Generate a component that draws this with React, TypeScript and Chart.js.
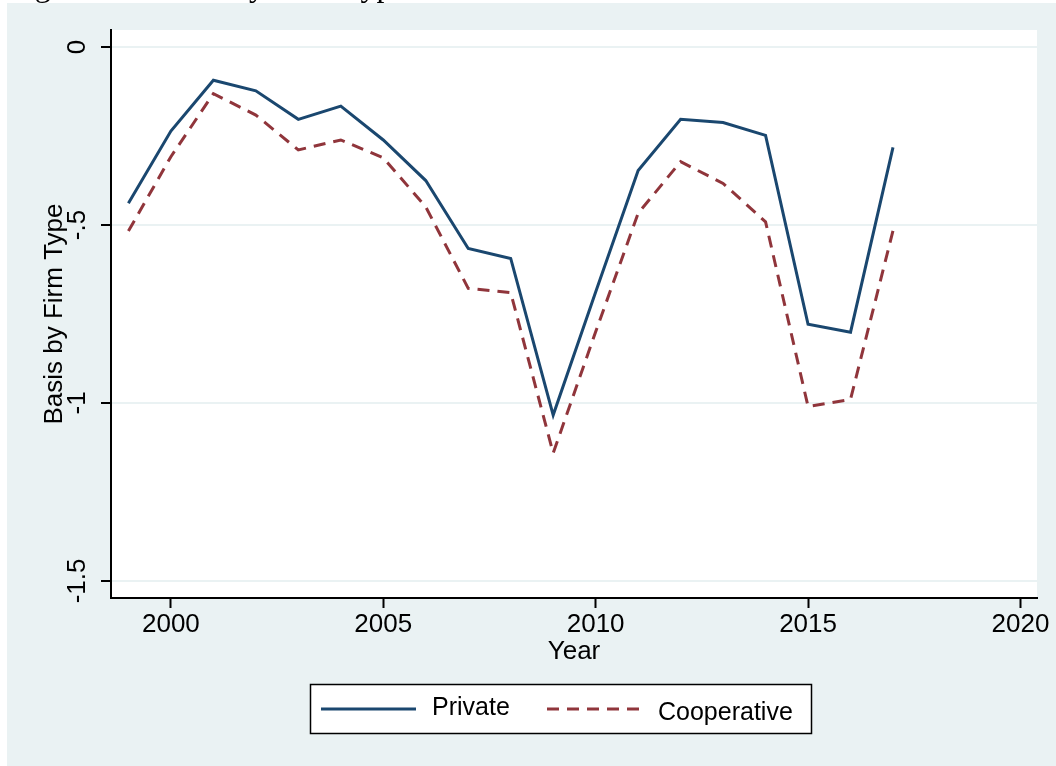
import React, { useEffect, useRef } from "react";
import { Chart, registerables } from "chart.js";

Chart.register(...registerables);

// Crop years and the average basis for each type of firm
const years = [1999, 2000, 2001, 2002, 2003, 2004, 2005, 2006, 2007, 2008, 2009, 2010, 2011, 2012, 2013, 2014, 2015, 2016, 2017];
const privateBasis = [-0.439, -0.236, -0.093, -0.123, -0.203, -0.166, -0.261, -0.375, -0.566, -0.594, -1.034, -0.688, -0.347, -0.203, -0.212, -0.248, -0.779, -0.801, -0.282];
const cooperativeBasis = [-0.517, -0.308, -0.131, -0.191, -0.289, -0.261, -0.311, -0.449, -0.678, -0.69, -1.141, -0.8, -0.467, -0.322, -0.383, -0.491, -1.01, -0.99, -0.516];

const seriesLabels = ["Private", "Cooperative"];
const xTicks = [2000, 2005, 2010, 2015, 2020];
const yTicks = [0, -0.5, -1, -1.5];
const yTickLabels = ["0", "-.5", "-1", "-1.5"];
const xTitle = "Year";
const yTitle = "Basis by Firm Type";
const figureCaption = "Figure A1: Basis by Firm Type";

const PANEL = "#EAF2F3";
const NAVY = "#1A476F";
const MAROON = "#90353B";
const SANS = '"Liberation Sans", Arial, Helvetica, sans-serif';

const chromePlugin = {
  id: "stataChrome",
  beforeDraw(chart: any) {
    const { ctx, chartArea, width, height } = chart;
    ctx.save();
    ctx.fillStyle = "#ffffff";
    ctx.fillRect(0, 0, width, height);
    ctx.fillStyle = PANEL;
    ctx.fillRect(7, 3, width - 7, height - 3);
    ctx.fillStyle = "#ffffff";
    ctx.fillRect(chartArea.left, chartArea.top, chartArea.right - chartArea.left, chartArea.bottom - chartArea.top);
    // caption line above the graph region
    ctx.fillStyle = "#000000";
    ctx.font = '32px "Liberation Serif", "Times New Roman", serif';
    ctx.textAlign = "left";
    ctx.textBaseline = "alphabetic";
    ctx.fillText(figureCaption, 8, -4);
    ctx.restore();
  },
  afterDraw(chart: any) {
    const { ctx } = chart;
    const yScale = chart.scales.y;
    ctx.save();
    // vertical y tick labels
    ctx.fillStyle = "#000000";
    ctx.font = `26px ${SANS}`;
    ctx.textAlign = "center";
    ctx.textBaseline = "alphabetic";
    yScale.ticks.forEach((t: any) => {
      const py = yScale.getPixelForValue(t.value);
      ctx.save();
      ctx.translate(85, py);
      ctx.rotate(-Math.PI / 2);
      ctx.fillText(String(t.label), 0, 0);
      ctx.restore();
    });

    // legend box
    const box = { x: 310, y: 684, w: 501, h: 49 };
    ctx.fillStyle = "#ffffff";
    ctx.fillRect(box.x, box.y, box.w, box.h);
    ctx.strokeStyle = "#000000";
    ctx.lineWidth = 1.5;
    ctx.strokeRect(box.x + 0.5, box.y + 0.5, box.w, box.h);

    const entries = [
      { x1: 321, x2: 416, ly: 709, tx: 432, ty: 715 },
      { x1: 547, x2: 643, ly: 709, tx: 658, ty: 720 },
    ];
    ctx.font = `25px ${SANS}`;
    ctx.textAlign = "left";
    chart.data.datasets.forEach((ds: any, i: number) => {
      const e = entries[i];
      ctx.strokeStyle = ds.borderColor;
      ctx.lineWidth = ds.borderWidth;
      ctx.setLineDash(ds.borderDash || []);
      ctx.beginPath();
      ctx.moveTo(e.x1, e.ly);
      ctx.lineTo(e.x2, e.ly);
      ctx.stroke();
      ctx.setLineDash([]);
      ctx.fillStyle = "#000000";
      ctx.fillText(ds.label, e.tx, e.ty);
    });
    ctx.restore();
  },
};

export default function App() {
  const canvasRef = useRef<HTMLCanvasElement | null>(null);

  useEffect(() => {
    const canvas = canvasRef.current;
    if (!canvas) return;
    const toPoints = (vals: number[]) => years.map((yr, i) => ({ x: yr, y: vals[i] }));

    const chart = new Chart(canvas, {
      type: "line",
      data: {
        datasets: [
          {
            label: seriesLabels[0],
            data: toPoints(privateBasis),
            borderColor: NAVY,
            borderWidth: 3,
            pointRadius: 0,
            tension: 0,
            fill: false,
          },
          {
            label: seriesLabels[1],
            data: toPoints(cooperativeBasis),
            borderColor: MAROON,
            borderWidth: 3,
            borderDash: [12, 8],
            pointRadius: 0,
            tension: 0,
            fill: false,
          },
        ],
      },
      options: {
        responsive: false,
        animation: false,
        devicePixelRatio: 1,
        layout: { padding: { left: 0, top: 30, right: 19, bottom: 0 } },
        plugins: {
          legend: { display: false },
          tooltip: { enabled: false },
          title: { display: false },
        },
        scales: {
          x: {
            type: "linear",
            min: 1998.59,
            max: 2020.39,
            afterBuildTicks: (scale: any) => {
              scale.ticks = xTicks.map((v) => ({ value: v }));
            },
            afterFit: (scale: any) => {
              scale.height = 168;
            },
            ticks: {
              autoSkip: false,
              maxRotation: 0,
              minRotation: 0,
              padding: 1,
              color: "#000000",
              font: { family: SANS, size: 26 },
              callback: (v: any) => String(v),
            },
            grid: {
              drawOnChartArea: false,
              drawTicks: true,
              tickLength: 10,
              tickWidth: 2,
              tickColor: "#000000",
            },
            border: { display: true, color: "#000000", width: 2 },
            title: {
              display: true,
              text: xTitle,
              color: "#000000",
              font: { family: SANS, size: 26 },
              padding: { top: 0, bottom: 99 },
            },
          },
          y: {
            type: "linear",
            min: -1.548,
            max: 0.048,
            afterBuildTicks: (scale: any) => {
              scale.ticks = yTicks.map((v) => ({ value: v }));
            },
            afterFit: (scale: any) => {
              scale.width = 111;
            },
            ticks: {
              display: false,
              callback: (v: any) => {
                const idx = yTicks.indexOf(Number(v));
                return idx >= 0 ? yTickLabels[idx] : "";
              },
            },
            grid: {
              color: PANEL,
              lineWidth: 2,
              drawTicks: true,
              tickLength: 10,
              tickWidth: 2,
              tickColor: "#000000",
            },
            border: { display: true, color: "#000000", width: 2 },
            title: {
              display: true,
              text: yTitle,
              color: "#000000",
              font: { family: SANS, size: 26 },
              padding: { top: 39, bottom: 0 },
            },
          },
        },
      },
      plugins: [chromePlugin],
    } as any);

    return () => chart.destroy();
  }, []);

  return (
    <div style={{ position: "absolute", left: 0, top: 0, width: 1056, height: 766 }}>
      <canvas ref={canvasRef} width={1056} height={766} style={{ display: "block", width: 1056, height: 766 }} />
    </div>
  );
}
